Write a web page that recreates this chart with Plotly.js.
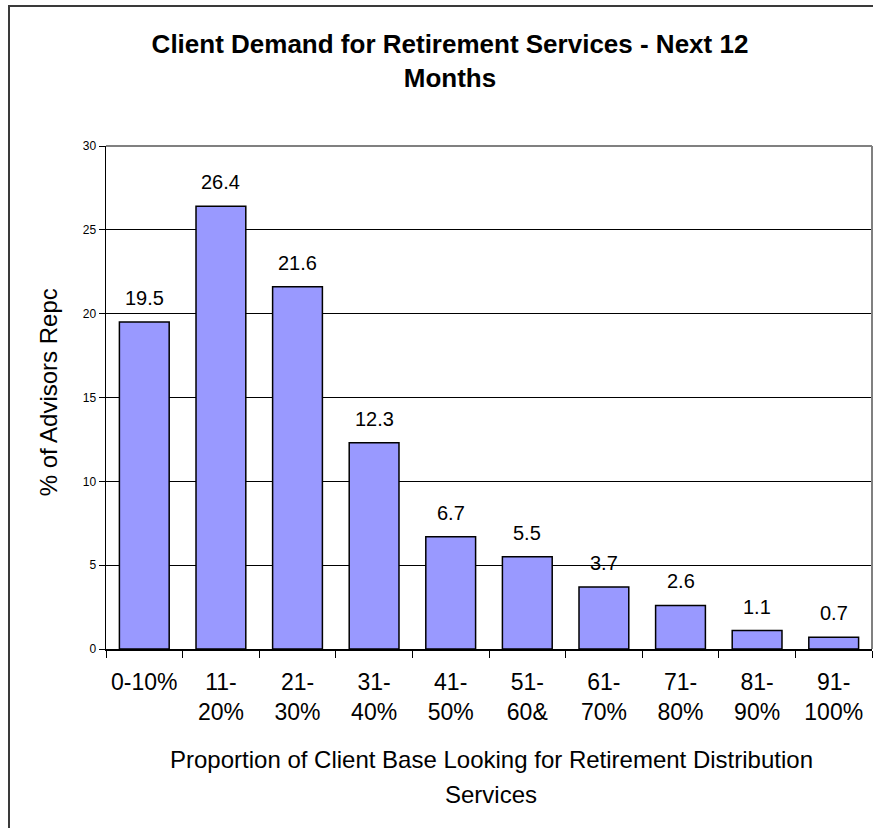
<!DOCTYPE html>
<html>
<head>
<meta charset="utf-8">
<script src="https://cdn.plot.ly/plotly-3.0.1.min.js"></script>
<style>
  html, body { margin: 0; padding: 0; background: #fff; }
  #chart { width: 873px; height: 828px; }
  #frame { position: absolute; left: 8px; top: 5px; width: 1000px; height: 1000px;
           border-left: 2px solid #3a3a3a; border-top: 2px solid #3a3a3a; pointer-events: none; }
</style>
</head>
<body>
<div id="chart"></div>
<div id="frame"></div>
<script>
const categories = ["0-10%", "11-<br>20%", "21-<br>30%", "31-<br>40%", "41-<br>50%", "51-<br>60&", "61-<br>70%", "71-<br>80%", "81-<br>90%", "91-<br>100%"];
const values = [19.5, 26.4, 21.6, 12.3, 6.7, 5.5, 3.7, 2.6, 1.1, 0.7];
const yTicks = [0, 5, 10, 15, 20, 25, 30];
const chartTitle = "Client Demand for Retirement Services - Next 12<br>Months";
const xTitleLines = ["Proportion of Client Base Looking for Retirement Distribution", "Services"];
const yTitle = "% of Advisors Repc";

const FONT = "Liberation Sans, Arial, sans-serif";

const trace = {
  type: "bar",
  x: categories,
  y: values,
  marker: { color: "#9999FF", line: { color: "#000000", width: 1.5 } },
  hoverinfo: "skip"
};

const annotations = values.map((v, i) => ({
  x: categories[i], y: v, xref: "x", yref: "y",
  text: String(v), showarrow: false, yanchor: "bottom", yshift: 11,
  font: { family: FONT, size: 20, color: "#000" }
}));

annotations.push({
  xref: "paper", yref: "paper", x: (491 - 105.7) / 766.3, y: (649 - 759) / 503,
  text: xTitleLines[0], showarrow: false, xanchor: "center", yanchor: "middle",
  font: { family: FONT, size: 24, color: "#000" }
});
annotations.push({
  xref: "paper", yref: "paper", x: (491 - 105.7) / 766.3, y: (649 - 794) / 503,
  text: xTitleLines[1], showarrow: false, xanchor: "center", yanchor: "middle",
  font: { family: FONT, size: 24, color: "#000" }
});
annotations.push({
  xref: "paper", yref: "paper", x: (48 - 105.7) / 766.3, y: (649 - 392) / 503,
  text: yTitle, showarrow: false, textangle: -90, xanchor: "center", yanchor: "middle",
  font: { family: FONT, size: 24, color: "#000" }
});

const layout = {
  width: 873, height: 828,
  margin: { l: 105.7, r: 1, t: 146, b: 179 },
  paper_bgcolor: "rgba(0,0,0,0)",
  plot_bgcolor: "#ffffff",
  showlegend: false,
  bargap: 0.35,
  title: {
    text: chartTitle,
    font: { family: FONT, size: 26, color: "#000", weight: "bold" },
    xref: "container", yref: "container",
    x: 450 / 873, xanchor: "center",
    y: 1 - 53 / 828, yanchor: "top"
  },
  xaxis: {
    type: "category",
    tickson: "boundaries",
    ticks: "outside", ticklen: 7, tickcolor: "#000", tickwidth: 1,
    ticklabelstandoff: 12,
    showline: true, linecolor: "#000", linewidth: 1.5,
    showgrid: false, zeroline: false,
    tickfont: { family: FONT, size: 23, color: "#000" },
    fixedrange: true
  },
  yaxis: {
    range: [0, 30],
    tickvals: yTicks,
    ticktext: yTicks.map(String),
    ticks: "outside", ticklen: 6, tickcolor: "#000", tickwidth: 1,
    showline: true, linecolor: "#000", linewidth: 1.5,
    showgrid: true, gridcolor: "#000", gridwidth: 1,
    zeroline: false,
    tickfont: { family: FONT, size: 12, color: "#000" },
    fixedrange: true
  },
  shapes: [
    { type: "line", xref: "paper", yref: "paper", x0: 0, x1: 1, y0: 1, y1: 1,
      line: { color: "#808080", width: 2 }, layer: "above" },
    { type: "line", xref: "paper", yref: "paper", x0: 1, x1: 1, y0: 0, y1: 1,
      line: { color: "#808080", width: 2 }, layer: "above" }
  ],
  annotations: annotations
};

Plotly.newPlot("chart", [trace], layout, { staticPlot: true, displayModeBar: false });
</script>
</body>
</html>
